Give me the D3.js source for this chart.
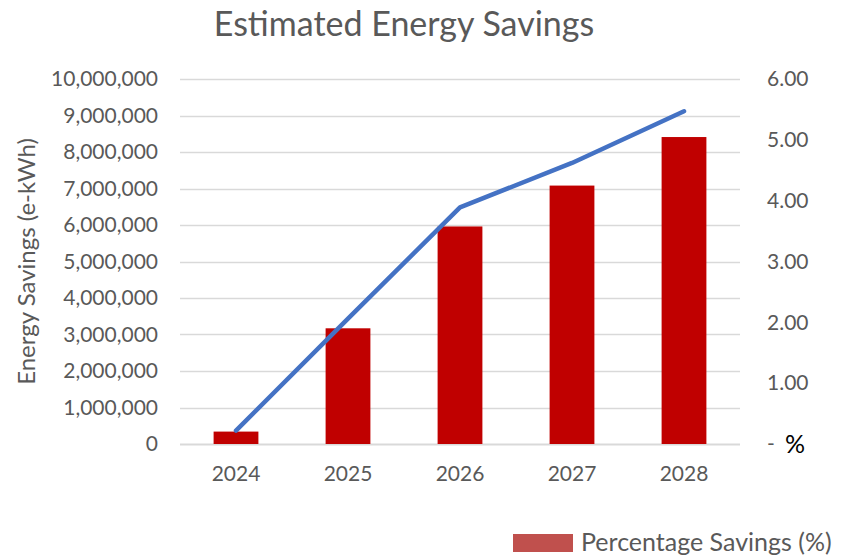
<!DOCTYPE html>
<meta charset="utf-8">
<style>
body { margin: 0; background: #fff; }
text { font-family: Lato, "Open Sans", sans-serif; fill: #595959; }
.grid line { stroke: #d9d9d9; stroke-width: 1.3; }
.domain { display: none; }
</style>
<svg width="843" height="557"></svg>
<script src="https://cdn.jsdelivr.net/npm/d3@7"></script>
<script>

// values
var years = ["2024", "2025", "2026", "2027", "2028"];
var energySavings = [340000, 3170000, 5960000, 7080000, 8410000];   // e-kWh
var pctSavings = [0.22, 2.06, 3.89, 4.62, 5.47];                    // %
var leftTicks = [0, 1e6, 2e6, 3e6, 4e6, 5e6, 6e6, 7e6, 8e6, 9e6, 1e7];
var rightTicks = [0, 1, 2, 3, 4, 5, 6];

var svg = d3.select("svg");
var plotLeft = 180, plotRight = 740, plotTop = 79, plotBottom = 444;

var x = d3.scaleBand()
    .domain(years)
    .range([plotLeft, plotRight])
    .paddingInner(0.6)
    .paddingOuter(0.3);

var y = d3.scaleLinear().domain([0, 10000000]).range([plotBottom, plotTop]);
var y2 = d3.scaleLinear().domain([0, 6]).range([plotBottom, plotTop]);

// gridlines
svg.append("g")
    .attr("class", "grid")
  .selectAll("line")
  .data(leftTicks)
  .enter().append("line")
    .attr("x1", plotLeft)
    .attr("x2", plotRight)
    .attr("y1", function(d) { return Math.round(y(d)) + 0.5; })
    .attr("y2", function(d) { return Math.round(y(d)) + 0.5; })
    .style("stroke-width", function(d) { return d == 0 ? 2 : 1.3; });

// left axis
var fmt = d3.format(",");
svg.append("g")
    .attr("transform", "translate(" + (plotLeft - 6) + ",0)")
    .call(d3.axisLeft(y).tickValues(leftTicks).tickSize(0).tickPadding(16).tickFormat(fmt))
    .call(function(g) {
      g.selectAll("text").style("font-size", "21px").style("fill", "#595959")
        .style("font-family", "Lato, sans-serif");
    });

// right axis
svg.append("g")
    .attr("transform", "translate(767,0)")
    .call(d3.axisRight(y2).tickValues(rightTicks).tickSize(0).tickPadding(0)
      .tickFormat(function(d) { return d == 0 ? " -" : d3.format(".2f")(d); }))
    .call(function(g) {
      g.selectAll("text").style("font-size", "21px").style("fill", "#595959")
        .style("font-family", "Lato, sans-serif")
        .attr("text-anchor", "start");
    });

svg.append("text")
    .attr("x", 785)
    .attr("y", y2(0) + 9)
    .style("font-size", "25px")
    .style("fill", "#000")
    .text("%");

// bottom axis
svg.append("g")
    .attr("transform", "translate(0," + plotBottom + ")")
    .call(d3.axisBottom(x).tickSize(0).tickPadding(22))
    .call(function(g) {
      g.selectAll("text").style("font-size", "21px").style("fill", "#595959")
        .style("font-family", "Lato, sans-serif");
    });

// bars
svg.append("g")
  .selectAll("rect")
  .data(energySavings)
  .enter().append("rect")
    .attr("x", function(d, i) { return x(years[i]); })
    .attr("y", function(d) { return y(d); })
    .attr("width", x.bandwidth())
    .attr("height", function(d) { return plotBottom - y(d); })
    .attr("fill", "#c00000");

// line
var line = d3.line()
    .x(function(d, i) { return x(years[i]) + x.bandwidth() / 2; })
    .y(function(d) { return y2(d); });

svg.append("path")
    .datum(pctSavings)
    .attr("d", line)
    .attr("fill", "none")
    .attr("stroke", "#4472c4")
    .attr("stroke-width", 4.5)
    .attr("stroke-linecap", "round")
    .attr("stroke-linejoin", "round");

// titles
svg.append("text")
    .attr("x", 404)
    .attr("y", 36)
    .attr("text-anchor", "middle")
    .style("font-size", "34px")
    .text("Estimated Energy Savings");

svg.append("text")
    .attr("transform", "translate(35," + ((plotTop + plotBottom) / 2) + ") rotate(-90)")
    .attr("text-anchor", "middle")
    .style("font-size", "24px")
    .text("Energy Savings (e-kWh)");

// legend
svg.append("rect")
    .attr("x", 513)
    .attr("y", 534)
    .attr("width", 60)
    .attr("height", 18)
    .attr("fill", "#c0504d");

svg.append("text")
    .attr("x", 581)
    .attr("y", 551)
    .style("font-size", "25px")
    .text("Percentage Savings (%)");

</script>
